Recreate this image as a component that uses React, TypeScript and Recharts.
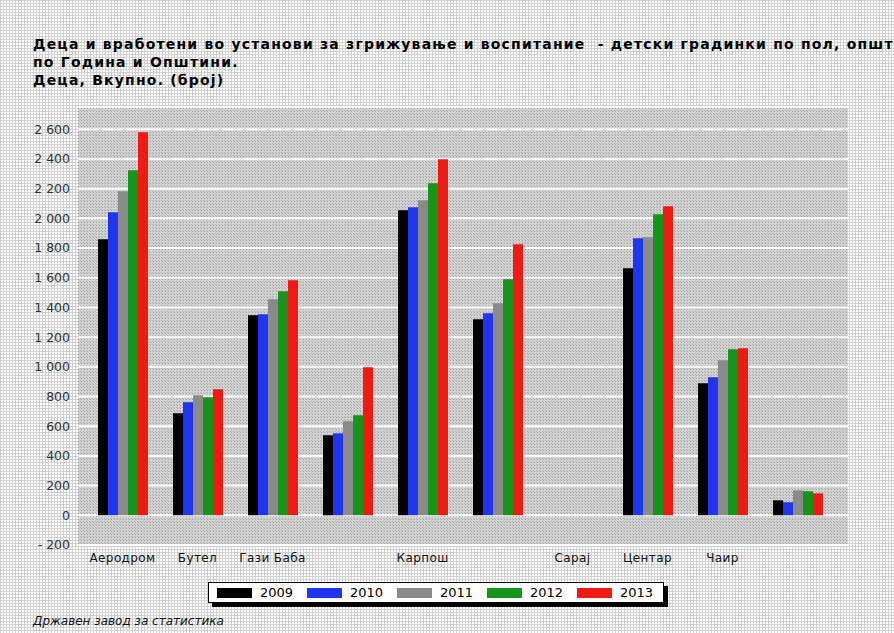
import React from 'react'
import { BarChart, Bar, XAxis, YAxis, CartesianGrid } from 'recharts'

const categories = [
  'Аеродром',
  'Бутел',
  'Гази Баба',
  'Ѓорче Петров',
  'Карпош',
  'Кисела Вода',
  'Сарај',
  'Центар',
  'Чаир',
  'Шуто Оризари',
]
// labels the original chart actually prints under the groups
const shownLabels = ['Аеродром', 'Бутел', 'Гази Баба', 'Карпош', 'Сарај', 'Центар', 'Чаир']

const years = ['2009', '2010', '2011', '2012', '2013']
const v2009 = [1859, 687, 1347, 539, 2054, 1320, null, 1664, 889, 101]
const v2010 = [2041, 761, 1354, 552, 2075, 1361, null, 1866, 930, 88]
const v2011 = [2182, 808, 1455, 633, 2122, 1428, null, 1873, 1044, 168]
const v2012 = [2324, 795, 1509, 674, 2236, 1590, null, 2027, 1118, 162]
const v2013 = [2580, 849, 1583, 997, 2398, 1825, null, 2081, 1125, 148]
const yTicks = [-200, 0, 200, 400, 600, 800, 1000, 1200, 1400, 1600, 1800, 2000, 2200, 2400, 2600]

const seriesValues = [v2009, v2010, v2011, v2012, v2013]
const colors = ['#000000', '#1f35f0', '#8a8a8a', '#16951a', '#f01a14']

const data = categories.map((name, i) => {
  const row: Record<string, string | number | null> = { name }
  years.forEach((y, k) => {
    row[y] = seriesValues[k][i]
  })
  return row
})

const fmt = (v: number) => {
  const s = Math.abs(v)
    .toString()
    .replace(/\B(?=(\d{3})+(?!\d))/g, ' ')
  return v < 0 ? '- ' + s : s
}

const CatTick = (props: any) => {
  const { x, y, payload } = props
  if (!shownLabels.includes(payload.value)) return null
  return (
    <text x={x} y={y} dy={9} textAnchor="middle" fontSize={12} fill="#111" fontFamily="DejaVu Sans" letterSpacing={0.4}>
      {payload.value}
    </text>
  )
}

const pageBg = {
  backgroundColor: '#ffffff',
  backgroundImage:
    'linear-gradient(#d0d0d0 1px, transparent 1px), linear-gradient(90deg, #d0d0d0 1px, transparent 1px)',
  backgroundSize: '3px 3px',
}

export default function App() {
  return (
    <div style={{ position: 'absolute', left: 0, top: 0, width: 894, height: 633, overflow: 'hidden', ...pageBg }}>
      <div
        style={{
          position: 'absolute',
          left: 33,
          top: 35,
          fontFamily: 'DejaVu Sans',
          fontWeight: 'bold',
          fontSize: 14,
          lineHeight: '18px',
          letterSpacing: 1.2,
          color: '#000',
          whiteSpace: 'pre',
        }}
      >
        <div>Деца и вработени во установи за згрижување и воспитание  - детски градинки по пол, општини</div>
        <div>по Година и Општини.</div>
        <div>Деца, Вкупно. (број)</div>
      </div>

      <BarChart
        width={894}
        height={633}
        data={data}
        margin={{ top: 107, right: 46, bottom: 58, left: 0 }}
        barSize={10}
        barGap={0}
        style={{ position: 'absolute', left: 0, top: 0 }}
      >
        <defs>
          <pattern id="plotPat" width="3" height="3" patternUnits="userSpaceOnUse">
            <rect width="3" height="3" fill="#d2d2d2" />
            <rect x="0" y="0" width="1" height="1" fill="#9e9e9e" />
            <rect x="2" y="2" width="1" height="1" fill="#aeaeae" />
          </pattern>
        </defs>
        <CartesianGrid vertical={false} stroke="#ffffff" strokeWidth={2} fill="url(#plotPat)" fillOpacity={1} />
        <XAxis
          dataKey="name"
          interval={0}
          axisLine={false}
          tickLine={false}
          height={30}
          padding={{ left: 7, right: 13 }}
          tick={<CatTick />}
        />
        <YAxis
          domain={[-200, 2750]}
          ticks={yTicks}
          width={78}
          axisLine={false}
          tickLine={false}
          tickSize={4}
          tickMargin={4}
          tickFormatter={fmt}
          tick={{ fontSize: 12.5, fill: '#333', fontFamily: 'DejaVu Sans' }}
        />
        {years.map((y, k) => (
          <Bar key={y} dataKey={y} fill={colors[k]} isAnimationActive={false} />
        ))}
      </BarChart>

      <div
        style={{
          position: 'absolute',
          left: 208,
          top: 582,
          width: 454,
          height: 19,
          background: '#fff',
          border: '1px solid #000',
          boxShadow: '4px 4px 0 #000',
          display: 'flex',
          alignItems: 'center',
          fontFamily: 'DejaVu Sans',
          fontSize: 13,
        }}
      >
        {years.map((y, k) => (
          <div key={y} style={{ display: 'flex', alignItems: 'center', width: 90, paddingLeft: 8, boxSizing: 'border-box' }}>
            <span style={{ display: 'inline-block', width: 35, height: 10, background: colors[k], marginRight: 8 }} />
            <span>{y}</span>
          </div>
        ))}
      </div>

      <div
        style={{
          position: 'absolute',
          left: 33,
          top: 614,
          fontFamily: 'DejaVu Sans',
          fontStyle: 'italic',
          fontSize: 12,
          color: '#111',
        }}
      >
        Државен завод за статистика
      </div>
    </div>
  )
}
